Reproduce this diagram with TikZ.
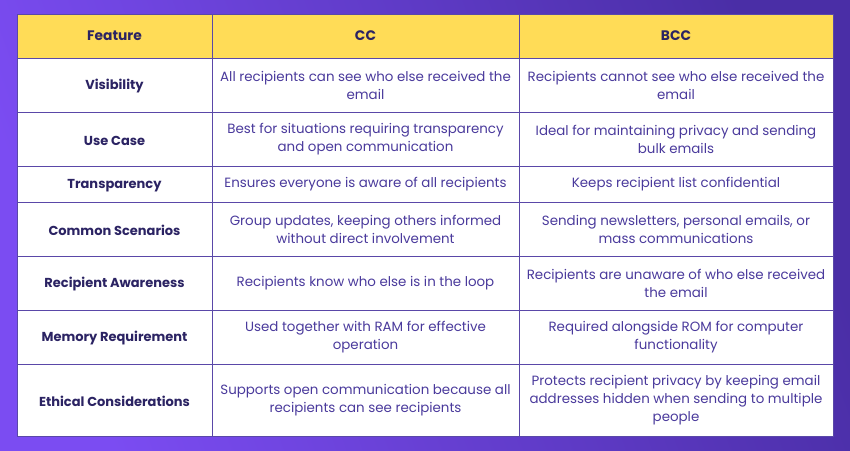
\documentclass[tikz,border=0pt]{standalone}
\usepackage{fontspec}
\setmainfont{Poppins}
\definecolor{bgA}{HTML}{7B4CF2}
\definecolor{bgB}{HTML}{4A2EA6}
\definecolor{hdr}{HTML}{FFDC57}
\definecolor{rule}{HTML}{5A48A8}
\definecolor{ink}{HTML}{2B2363}
\definecolor{body}{HTML}{4A3A9C}
\tikzset{
  feat/.style={font=\fontsize{13}{15}\selectfont\bfseries, text=ink, align=center},
  cell/.style={font=\fontsize{13.4}{18}\selectfont, text=body, align=center},
  head/.style={font=\fontsize{13.8}{16}\selectfont\bfseries, text=ink}
}
\begin{document}
\begin{tikzpicture}[x=1pt,y=-1pt]
  \shade[left color=bgA, right color=bgB, shading angle=110] (0,0) rectangle (850,450);
  \useasboundingbox (0,0) rectangle (850,450);
  % Header and body fills
  \fill[hdr] (17,14) rectangle (833,58);
  \fill[white] (17,58) rectangle (833,436);
  % Grid
  \draw[rule, line width=1pt] (17,14) rectangle (833,436);
  \foreach \y in {58,112,166,202,256,310,364}
    \draw[rule, line width=1pt] (17,\y) -- (833,\y);
  \foreach \x in {212,519}
    \draw[rule, line width=1pt] (\x,14) -- (\x,436);
  % Header
  \node[head] (hFeat) at (114.5,36) {Feature};
  \node[head] (hCC) at (365.5,36) {CC};
  \node[head] (hBCC) at (676,36) {BCC};
  % Rows
  \foreach \name/\yc/\f/\cc/\bcc in {
    vis/85/Visibility/{All recipients can see who else received the\\email}/{Recipients cannot see who else received the\\email},
    use/139/Use Case/{Best for situations requiring transparency\\and open communication}/{Ideal for maintaining privacy and sending\\bulk emails},
    tra/184/Transparency/{Ensures everyone is aware of all recipients}/{Keeps recipient list confidential},
    com/229/Common Scenarios/{Group updates, keeping others informed\\without direct involvement}/{Sending newsletters, personal emails, or\\mass communications},
    rec/283/Recipient Awareness/{Recipients know who else is in the loop}/{Recipients are unaware of who else received\\the email},
    mem/337/Memory Requirement/{Used together with RAM for effective\\operation}/{Required alongside ROM for computer\\functionality},
    eth/400/Ethical Considerations/{Supports open communication because all\\recipients can see recipients}/{Protects recipient privacy by keeping email\\addresses hidden when sending to multiple\\people}}
  {
    \node[feat] (\name F) at (114.5,\yc+1.5) {\f};
    \node[cell] (\name C) at (365.5,\yc+0.5) {\cc};
    \node[cell] (\name B) at (676,\yc+0.5) {\bcc};
  }
\end{tikzpicture}
\end{document}
